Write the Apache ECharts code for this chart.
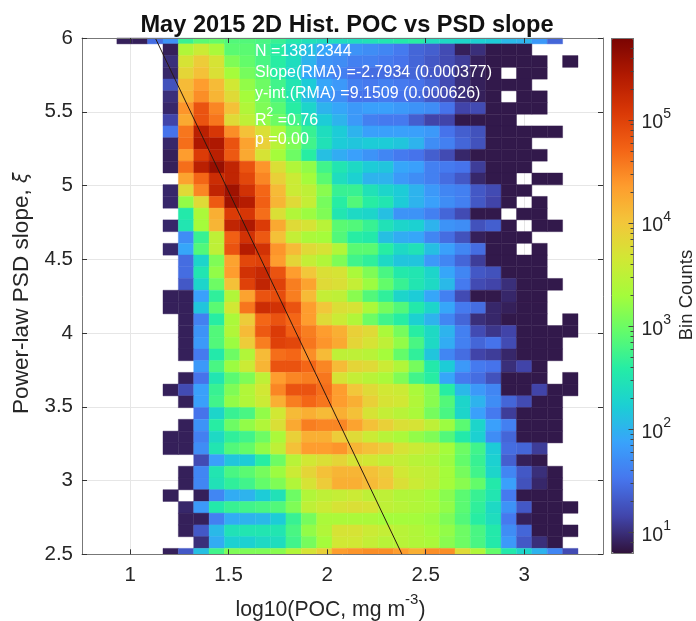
<!DOCTYPE html>
<html><head><meta charset="utf-8">
<style>html,body{margin:0;padding:0;background:#fff}#c{width:696px;height:621px}</style>
<script src="https://cdn.jsdelivr.net/npm/echarts@6/dist/echarts.min.js"></script>
</head><body><div id="c"></div>
<script>
const n = null;
const titleText = 'May 2015 2D Hist. POC vs PSD slope';
const xTicks = [1, 1.5, 2, 2.5, 3];
const yTicks = [2.5, 3, 3.5, 4, 4.5, 5, 5.5, 6];
const cbarDecades = [1, 2, 3, 4, 5];
const cbarMinor = [0.903,1.301,1.477,1.602,1.699,1.778,1.845,1.903,1.954,2.301,2.477,2.602,2.699,2.778,2.845,2.903,2.954,3.301,3.477,3.602,3.699,3.778,3.845,3.903,3.954,4.301,4.477,4.602,4.699,4.778,4.845,4.903,4.954,5.301,5.477,5.602,5.699];
const fitX = [1.128, 2.38];
const fitY = [6, 2.5];
const xBins = [.972,1.05,1.128,1.206,1.284,1.362,1.44,1.518,1.596,1.674,1.752,1.83,1.908,1.986,2.064,2.142,2.22,2.298,2.376,2.454,2.532,2.61,2.688,2.766,2.844,2.922,3.0,3.078,3.156,3.234];
const yBins = [6,5.92,5.841,5.761,5.682,5.602,5.523,5.443,5.364,5.284,5.205,5.125,5.045,4.966,4.886,4.807,4.727,4.648,4.568,4.489,4.409,4.33,4.25,4.17,4.091,4.011,3.932,3.852,3.773,3.693,3.614,3.534,3.455,3.375,3.295,3.216,3.136,3.057,2.977,2.898,2.818,2.739,2.659,2.58,2.5];
const colorStops = ['#30123b','#4145ab','#4675ed','#39a2fc','#1bcfd4','#24eca6','#61fc6c','#a4fc3b','#d1e834','#f3c63a','#fe9b2d','#f36315','#d93806','#b11901','#7a0402'];
// log10(bin count), one row per yBins entry, one column per xBins entry
const log10Counts = [
[.9,.9,1.45,1.75,2.7,2.9,2.95,2.85,2.85,2.8,2.7,2.55,2.45,2.4,2.4,2.4,2.45,2.5,2.55,2.6,2.4,2.35,2.3,2.25,2.2,2.05,2.0,1.8,1.4,n],
[n,n,n,.9,3.4,3.6,3.35,2.9,2.9,2.75,2.6,2.3,2.1,1.9,1.8,1.75,1.7,1.65,1.55,1.4,1.35,1.2,.9,1.0,.85,.85,.85,n,n,n],
[n,n,n,1.0,3.7,3.95,3.7,3.1,2.95,2.8,2.6,2.4,2.0,1.75,1.7,1.6,1.6,1.55,1.5,1.4,1.3,1.2,1.1,.9,.85,.85,.85,.85,n,.85],
[n,n,n,.95,3.85,4.05,3.75,3.3,3.05,2.9,2.6,2.3,1.9,1.7,1.6,1.5,1.45,1.45,1.4,1.4,1.3,1.2,1.0,.9,.85,n,.85,.85,n,n],
[n,n,n,1.25,4.1,4.35,4.1,3.65,3.2,3.0,2.75,2.5,2.2,1.9,1.8,1.6,1.55,1.6,1.55,1.5,1.4,1.2,1.0,.9,.85,.85,.85,n,n,n],
[n,n,n,1.0,4.15,4.45,4.15,3.8,3.3,3.05,2.8,2.5,2.1,1.8,1.7,1.5,1.5,1.55,1.5,1.45,1.3,1.2,1.0,.9,.85,n,.85,.85,n,n],
[n,n,n,.95,4.4,4.85,4.5,4.05,3.4,3.1,2.9,2.6,2.3,2.0,1.9,1.8,1.85,1.85,1.8,1.75,1.7,1.5,1.15,1.2,.85,.85,.85,.85,n,n],
[n,n,n,1.15,4.25,4.85,4.6,3.8,3.5,3.2,3.0,2.75,2.45,2.2,2.0,1.8,1.6,1.55,1.55,1.35,1.15,1.15,.85,.85,.85,.85,n,n,n,n],
[n,n,n,1.5,4.6,5.35,5.1,4.45,4.05,3.75,3.35,3.0,2.7,2.4,2.2,2.0,1.85,1.85,1.85,1.85,1.8,1.5,1.35,1.25,.85,.85,.85,.85,.85,n],
[n,n,n,.95,4.65,5.45,5.45,4.85,4.3,3.9,3.45,3.1,2.75,2.45,2.2,2.15,2.2,2.2,2.15,2.0,1.7,1.6,1.4,1.25,.85,.85,.85,n,n,n],
[n,n,n,.9,4.35,5.05,5.35,4.8,4.25,3.7,3.3,3.0,2.6,2.1,1.95,1.85,1.75,1.65,1.55,1.5,1.35,1.2,.95,.85,.85,.85,.85,.85,n,n],
[n,n,n,.9,4.65,5.35,5.6,5.3,4.85,4.4,3.75,3.4,3.2,2.75,2.5,2.35,2.2,2.15,1.9,1.85,1.6,1.55,1.5,1.1,.85,.85,.85,n,n,n],
[n,n,n,n,4.3,4.7,5.2,5.3,4.95,4.5,3.9,3.6,3.3,2.9,2.4,2.25,2.0,2.0,1.8,1.7,1.6,1.45,1.3,.95,.85,.85,n,.85,.85,n],
[n,n,n,.95,3.8,4.5,5.3,5.55,5.15,4.7,4.1,3.6,3.5,3.15,2.7,2.7,2.45,2.3,2.2,2.0,1.8,1.65,1.6,1.3,1.2,.85,.85,n,n,n],
[n,n,n,.95,3.2,3.8,4.8,5.55,5.4,4.75,4.15,3.8,3.55,3.05,2.6,2.85,2.6,2.5,2.2,2.0,1.85,1.7,1.6,1.3,1.15,.85,n,.85,n,n],
[n,n,n,n,2.55,3.35,4.2,5.05,5.1,4.65,3.75,3.4,3.25,3.1,2.5,2.35,2.3,2.1,1.75,1.75,1.6,1.4,1.2,.85,.85,n,.85,.85,n,n],
[n,n,n,.95,2.5,3.3,4.15,5.3,5.45,5.05,4.25,3.8,3.7,3.45,2.9,2.85,2.7,2.45,2.3,2.25,2.0,1.75,1.7,1.25,1.35,.85,n,.85,.85,n],
[n,n,n,n,1.7,2.7,3.5,4.75,5.15,4.8,4.05,3.55,3.35,3.3,2.85,2.6,2.55,2.1,1.95,1.9,1.65,1.45,1.25,.9,.85,.85,.85,n,n,n],
[n,n,n,.95,1.9,2.85,3.5,4.85,5.4,5.15,4.4,4.1,3.8,3.7,3.4,2.9,2.9,2.6,2.35,2.45,2.1,1.85,1.65,1.45,.85,.85,n,.85,n,n],
[n,n,n,n,1.45,2.3,3.1,4.3,4.95,5.0,4.35,3.85,3.55,3.4,3.1,2.75,2.65,2.35,2.15,2.15,1.8,1.65,1.4,1.1,.85,.85,.85,.85,n,n],
[n,n,n,n,1.45,2.5,3.2,4.35,5.15,5.25,4.85,4.35,4.0,3.75,3.7,3.35,3.1,2.8,2.55,2.5,2.3,1.9,1.65,1.3,1.25,.85,.85,.85,n,n],
[n,n,n,n,1.3,2.3,3.0,4.05,5.0,5.3,5.0,4.55,4.3,3.8,3.75,3.55,3.25,2.95,2.7,2.5,2.35,2.05,1.55,1.2,1.15,1.0,.85,.85,.85,n],
[n,n,n,.9,.9,1.85,2.65,3.4,4.3,4.85,4.9,4.55,4.1,3.55,3.5,3.15,2.85,2.65,2.3,2.2,1.9,1.6,1.2,.85,.85,.95,.85,.85,n,n],
[n,n,n,.9,.9,2.15,2.9,3.65,4.6,5.2,5.15,4.85,4.35,4.0,3.75,3.7,3.35,3.05,2.85,2.55,2.3,1.9,1.55,1.45,.95,.9,.85,.85,n,n],
[n,n,n,n,.9,1.6,2.6,3.35,3.95,4.7,4.85,4.7,4.35,3.8,3.6,3.4,3.0,2.75,2.6,2.25,2.0,1.65,1.4,1.0,.95,.85,.85,.85,n,.85],
[n,n,n,n,.9,1.75,2.85,3.4,4.1,4.8,5.05,4.75,4.55,4.35,4.2,3.9,3.8,3.35,3.05,2.6,2.35,2.0,1.6,1.2,1.05,1.15,.85,.85,.85,.85],
[n,n,n,n,.9,1.8,2.85,3.25,3.95,4.55,5.0,4.95,4.6,4.4,4.25,3.85,3.7,3.5,3.2,2.8,2.35,1.95,1.6,1.4,1.5,1.2,.85,.85,.85,n],
[n,n,n,n,.9,1.55,2.55,3.0,3.4,4.1,4.65,4.7,4.45,4.1,3.5,3.5,3.45,3.3,2.95,2.65,2.15,1.65,1.45,1.15,1.1,.95,.85,.85,.85,n],
[n,n,n,n,n,1.8,2.8,3.25,3.6,4.15,4.85,4.85,4.7,4.5,4.1,3.85,3.8,3.6,3.4,3.05,2.55,2.2,1.8,1.55,1.5,1.0,1.15,.85,n,n],
[n,n,n,n,.9,1.5,2.5,2.9,3.1,3.5,4.35,4.5,4.55,4.6,3.7,3.55,3.45,3.35,3.1,2.75,2.6,1.9,1.55,1.45,1.25,.85,.85,.85,n,.85],
[n,n,n,.9,1.2,1.85,2.7,3.1,3.4,3.65,4.5,4.85,4.85,4.65,4.35,4.0,3.8,3.65,3.6,3.35,3.15,2.6,2.05,1.8,1.65,.85,.85,1.15,.85,.85],
[n,n,n,n,.9,1.85,2.75,3.2,3.4,3.6,4.2,4.55,4.7,4.6,4.35,4.2,3.9,3.7,3.65,3.4,3.15,2.85,2.3,2.0,1.7,1.4,1.2,.85,.85,n],
[n,n,n,n,n,1.5,2.3,2.7,2.8,3.2,3.65,4.1,4.2,4.1,4.2,4.05,3.7,3.55,3.45,3.35,3.05,2.8,2.3,1.85,1.55,1.1,.85,.85,.85,n],
[n,n,n,n,.9,1.75,2.6,3.0,3.2,3.4,3.75,4.25,4.55,4.5,4.5,4.3,4.05,3.9,3.75,3.7,3.5,3.25,2.9,2.3,1.85,1.6,.85,.85,.85,n],
[n,n,n,.9,.9,1.6,2.35,2.65,2.75,3.0,3.35,3.9,4.2,4.2,3.95,3.8,3.6,3.45,3.35,3.2,3.1,2.85,2.55,2.25,1.7,1.4,.85,.85,.85,n],
[n,n,n,.9,.9,1.7,2.5,2.85,2.95,3.2,3.5,4.05,4.35,4.35,4.4,4.15,4.05,3.95,3.7,3.6,3.5,3.3,3.0,2.75,2.2,1.45,1.4,1.1,n,n],
[n,n,n,n,n,1.2,1.85,2.15,2.2,2.6,3.0,3.45,3.65,3.75,3.85,3.7,3.65,3.55,3.55,3.45,3.4,3.25,2.95,2.7,2.25,1.35,.9,.85,n,n],
[n,n,n,n,.9,1.65,2.5,2.8,2.9,3.05,3.25,3.6,3.85,4.05,4.15,4.15,4.05,3.95,3.65,3.55,3.5,3.3,3.05,2.75,2.3,1.65,1.3,1.0,.85,n],
[n,n,n,n,.9,1.65,2.45,2.65,2.75,2.95,3.1,3.4,3.7,3.95,4.2,4.2,4.1,4.0,3.75,3.6,3.5,3.3,3.15,2.95,2.55,1.85,1.25,.95,.85,n],
[n,n,n,.9,n,.9,1.65,1.95,2.0,2.2,2.45,3.0,3.4,3.5,3.55,3.6,3.5,3.5,3.4,3.4,3.3,3.15,2.9,2.7,2.5,1.55,.85,.85,.85,n],
[n,n,n,n,.95,1.8,2.55,2.7,2.75,2.8,2.85,3.1,3.5,3.6,3.7,3.75,3.7,3.5,3.45,3.4,3.35,3.2,2.9,2.65,2.35,1.75,1.3,.85,.85,.85],
[n,n,n,n,.9,.9,1.6,1.95,2.0,2.05,2.2,2.7,3.05,3.35,3.35,3.35,3.35,3.3,3.3,3.3,3.25,3.1,2.85,2.6,2.4,1.55,.9,.85,.85,n],
[n,n,n,n,.9,1.3,2.05,2.45,2.5,2.5,2.5,2.8,3.2,3.4,3.7,3.7,3.6,3.55,3.45,3.4,3.3,3.2,3.0,2.8,2.55,1.7,1.4,.85,.85,.85],
[n,n,n,n,n,1.0,1.95,2.25,2.25,2.35,2.4,2.75,3.05,3.3,3.65,3.65,3.55,3.45,3.45,3.4,3.35,3.15,3.0,2.8,2.55,1.8,1.3,1.0,.85,n],
[n,n,n,.9,1.3,2.1,2.75,3.1,3.1,3.1,3.15,3.4,3.7,3.9,4.35,4.4,4.45,4.45,4.35,4.2,4.45,4.45,3.8,3.4,2.95,2.55,2.3,2.0,1.65,1.2]
];
const cells = [];
log10Counts.forEach((row, r) => row.forEach((v, c) => { if (v !== null) cells.push([xBins[c], yBins[r], v]); }));

const XW = xBins[1] - xBins[0], YH = yBins[0] - yBins[1];
const FONT = '"Liberation Sans", Arial, sans-serif';
const INK = '#262626', BOX = '#777777';
const rect = {left: 82, right: 93, top: 38, height: 516.3, outerBoundsMode:'none'};
const XR = {min: 0.756, max: 3.4}, YR = {min: 2.5, max: 6};
const CB = {min: 0.8, max: 5.79};

function boxX(position, gridIndex) {
  return {type:'value', gridIndex, position, ...XR, z:6,
    axisLine:{show:true,onZero:false,lineStyle:{color:BOX,width:1}},
    axisTick:{show:true,inside:true,length:5,customValues:xTicks,lineStyle:{color:'#333',width:1}},
    axisLabel:{show:false}, splitLine:{show:false}};
}
function boxY(position, gridIndex) {
  return {type:'value', gridIndex, position, ...YR, z:6,
    axisLine:{show:true,onZero:false,lineStyle:{color:BOX,width:1}},
    axisTick:{show:true,inside:true,length:5,customValues:yTicks,lineStyle:{color:'#333',width:1}},
    axisLabel:{show:false}, splitLine:{show:false}};
}
function cbY(position, ticks, len, labels) {
  return {type:'value', gridIndex:2, position, ...CB, z:10,
    axisLine:{show:true,onZero:false,lineStyle:{color:BOX,width:1}},
    axisTick:{show:ticks.length>0,inside:true,length:len,customValues:ticks,lineStyle:{color:'#444',width:1}},
    axisLabel: labels ? {show:true,customValues:ticks,margin:8,formatter:v=>'{b|10}{s|'+v+'}',
      rich:{b:{fontFamily:FONT,fontSize:19.5,color:INK,verticalAlign:'bottom',lineHeight:26},
            s:{fontFamily:FONT,fontSize:14,color:INK,verticalAlign:'top',lineHeight:26}}} : {show:false},
    splitLine:{show:false}};
}

const chart = echarts.init(document.getElementById('c'), null, {renderer:'canvas'});
chart.setOption({
  animation:false, backgroundColor:'#fff',
  title:{text:titleText,left:342,textAlign:'center',top:8,
    textStyle:{fontFamily:FONT,fontWeight:'bold',fontSize:23.6,color:'#111'}},
  grid:[
    {...rect},
    {...rect},
    {left:611.5,width:22,top:38.5,height:514.5,outerBoundsMode:'none'}
  ],
  xAxis:[
    {type:'value',gridIndex:0,...XR,position:'bottom',
      name:'{a|log10(POC, mg m}{s|-3}{a|)}',nameLocation:'middle',nameGap:38,
      nameTextStyle:{padding:[0,24,0,0],rich:{
        a:{fontFamily:FONT,fontSize:21.2,color:INK,verticalAlign:'bottom',lineHeight:28},
        s:{fontFamily:FONT,fontSize:15,color:INK,verticalAlign:'top',lineHeight:28}}},
      axisLine:{show:false},axisTick:{show:false,customValues:xTicks},
      axisLabel:{customValues:xTicks,formatter:v=>String(v),fontFamily:FONT,fontSize:20.5,color:INK,margin:11},
      splitLine:{show:true,lineStyle:{color:'#e6e6e6',width:1}}},
    boxX('bottom',1), boxX('top',1),
    {type:'value',gridIndex:2,min:0,max:1,show:true,position:'top',z:10,axisLine:{onZero:false,lineStyle:{color:BOX}},axisTick:{show:false},axisLabel:{show:false},splitLine:{show:false}},
    {type:'value',gridIndex:2,min:0,max:1,show:true,position:'bottom',z:10,axisLine:{onZero:false,lineStyle:{color:BOX}},axisTick:{show:false},axisLabel:{show:false},splitLine:{show:false}}
  ],
  yAxis:[
    {type:'value',gridIndex:0,...YR,position:'left',
      name:'{a|Power-law PSD slope, }{i|ξ}',nameLocation:'middle',nameGap:47,nameRotate:90,
      nameTextStyle:{padding:[0,0,0,6],rich:{a:{fontFamily:FONT,fontSize:22.6,color:INK},i:{fontFamily:'"DejaVu Sans"',fontStyle:'italic',fontSize:19,color:INK}}},
      axisLine:{show:false},axisTick:{show:false,customValues:yTicks},
      axisLabel:{customValues:yTicks,formatter:v=>String(v),fontFamily:FONT,fontSize:20.5,color:INK,margin:9},
      splitLine:{show:true,lineStyle:{color:'#e6e6e6',width:1}}},
    boxY('left',1), boxY('right',1),
    cbY('right',cbarDecades,5,true),
    cbY('right',cbarMinor,3,false),
    cbY('left',[],0,false)
  ],
  visualMap:{type:'continuous',seriesIndex:0,dimension:2,min:CB.min,max:CB.max,
    left:611.5,top:38.5,itemWidth:22,itemHeight:514.5,padding:0,text:null,
    calculable:false,realtime:false,hoverLink:false,inRange:{color:colorStops},
    textStyle:{color:'transparent',fontSize:1},showLabel:false},
  graphic:[
    {type:'text',left:255,top:44,z:20,style:{text:'N =13812344',fill:'#fff',fontFamily:FONT,fontSize:16}},
    {type:'text',left:255,top:65,z:20,style:{text:'Slope(RMA) =-2.7934 (0.000377)',fill:'#fff',fontFamily:FONT,fontSize:16}},
    {type:'text',left:255,top:86,z:20,style:{text:'y-int.(RMA) =9.1509 (0.000626)',fill:'#fff',fontFamily:FONT,fontSize:16}},
    {type:'text',left:255,top:107,z:20,style:{text:'{a|R}{s|2}{a| =0.76}',fill:'#fff',
      rich:{a:{fill:'#fff',fontFamily:FONT,fontSize:16,verticalAlign:'bottom',lineHeight:22},s:{fill:'#fff',fontFamily:FONT,fontSize:12,verticalAlign:'top',lineHeight:22}}}},
    {type:'text',left:255,top:132,z:20,style:{text:'p =0.00',fill:'#fff',fontFamily:FONT,fontSize:16}},
    {type:'text',rotation:Math.PI/2,x:687,y:295,z:20,style:{text:'Bin Counts',fill:INK,fontFamily:FONT,fontSize:18.5,align:'center',verticalAlign:'middle'}}
  ],
  series:[
    {type:'custom',xAxisIndex:0,yAxisIndex:0,coordinateSystem:'cartesian2d',z:2,silent:true,
      encode:{x:0,y:1},data:cells,
      renderItem(params,api){
        const c=api.coord([api.value(0),api.value(1)]);
        const s=api.size([XW,YH]);
        const r=echarts.graphic.clipRectByRect({x:c[0]-s[0]/2,y:c[1]-s[1]/2,width:s[0],height:s[1]},
          {x:params.coordSys.x,y:params.coordSys.y,width:params.coordSys.width,height:params.coordSys.height});
        if(!r) return null;
        const col=api.visual('color');
        return {type:'rect',shape:r,style:{fill:col,stroke:col,lineWidth:0.4}};
      }},
    {type:'line',xAxisIndex:0,yAxisIndex:0,z:3,silent:true,symbol:'none',
      data:fitX.map((x,i)=>[x,fitY[i]]),lineStyle:{color:'#2a1a10',width:1}}
  ]
});
</script></body></html>
